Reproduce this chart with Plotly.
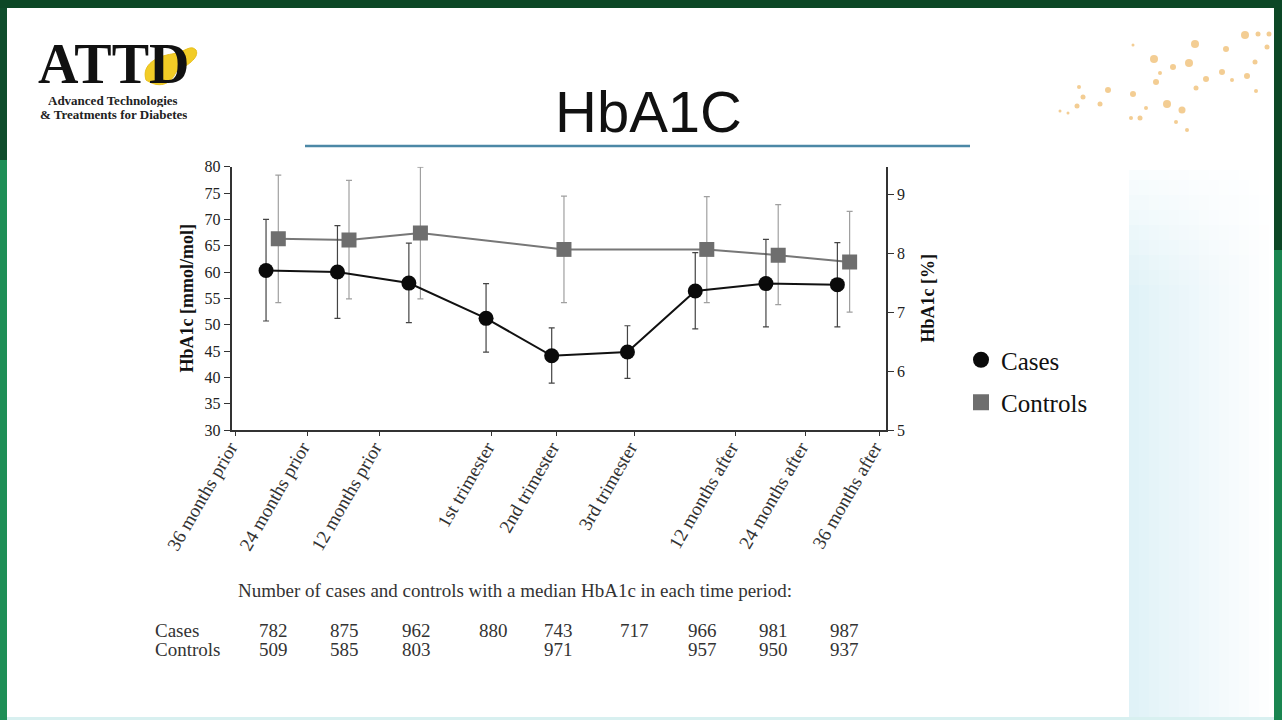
import plotly.graph_objects as go

W, H = 1282, 720

# x positions (in period units) of the tick marks and of the plotted points
tick_labels = ["36 months prior", "24 months prior", "12 months prior", "1st trimester",
               "2nd trimester", "3rd trimester", "12 months after", "24 months after",
               "36 months after"]
tick_pos = [0.0, 1.0, 2.0, 3.56, 4.46, 5.54, 6.94, 7.91, 8.93]

cases_x = [0.43, 1.42, 2.41, 3.48, 4.39, 5.44, 6.38, 7.36, 8.35]
cases_y = [60.3, 60.0, 57.9, 51.2, 44.1, 44.8, 56.4, 57.8, 57.6]
cases_hi = [70.0, 68.8, 65.5, 57.8, 49.4, 49.8, 63.7, 66.2, 65.6]
cases_lo = [50.7, 51.2, 50.4, 44.8, 38.9, 39.8, 49.2, 49.6, 49.6]

controls_x = [0.60, 1.58, 2.57, 4.56, 6.54, 7.53, 8.52]
controls_y = [66.3, 66.1, 67.4, 64.3, 64.3, 63.2, 61.9]
controls_hi = [78.4, 77.4, 79.9, 74.4, 74.3, 72.8, 71.5]
controls_lo = [54.2, 54.9, 54.9, 54.2, 54.2, 53.8, 52.4]

# counts table under the chart
cases_n = ["782", "875", "962", "880", "743", "717", "966", "981", "987"]
controls_n = ["509", "585", "803", "", "971", "", "957", "950", "937"]

# decorative network dots in the top right corner of the slide (pixel x, y, radius)
deco_dots = [(1245, 35, 4), (1195, 44, 4), (1154, 59, 4), (1189, 63, 4), (1226, 49, 3),
             (1267, 47, 2.5), (1269, 34, 2.5), (1258, 34, 2.5), (1133, 45, 1.5), (1173, 67, 3),
             (1206, 79, 3), (1222, 72, 3), (1247, 76, 3), (1255, 62, 2.5), (1156, 82, 3),
             (1167, 104, 4), (1182, 110, 3.5), (1196, 88, 2.5), (1133, 94, 3), (1108, 90, 3),
             (1083, 97, 2.5), (1079, 87, 2), (1100, 104, 2.5), (1077, 106, 2.5), (1140, 118, 2.5),
             (1131, 118, 2), (1176, 122, 2), (1187, 130, 2), (1232, 80, 2), (1256, 91, 2),
             (1068, 113, 1.5), (1060, 111, 1.5), (1160, 73, 2), (1146, 108, 2)]

SERIF = "Liberation Serif, Times New Roman, serif"
SANS = "Liberation Sans, Arial, sans-serif"


def px(x, y):
    # pixel position on the slide -> paper coords
    return x / W, 1 - y / H


def text(t, x, y, size, color="#333333", family=SERIF, xanchor="center", xref="paper", **kw):
    xx = x / W if xref == "paper" else x
    return dict(text=t, x=xx, y=1 - y / H, xref=xref, yref="paper", xanchor=xanchor,
                yanchor="middle", showarrow=False,
                font=dict(family=family, size=size, color=color), **kw)


fig = go.Figure()

fig.add_trace(go.Scatter(
    x=controls_x, y=controls_y, mode="lines+markers", showlegend=False,
    line=dict(color="#777777", width=2),
    marker=dict(symbol="square", size=15, color="#6e6e6e"),
    error_y=dict(type="data", symmetric=False,
                 array=[h - m for h, m in zip(controls_hi, controls_y)],
                 arrayminus=[m - l for l, m in zip(controls_lo, controls_y)],
                 color="#a0a0a0", thickness=1.2, width=3),
))
fig.add_trace(go.Scatter(
    x=cases_x, y=cases_y, mode="lines+markers", showlegend=False,
    line=dict(color="#111111", width=2),
    marker=dict(symbol="circle", size=15, color="#0a0a0a"),
    error_y=dict(type="data", symmetric=False,
                 array=[h - m for h, m in zip(cases_hi, cases_y)],
                 arrayminus=[m - l for l, m in zip(cases_lo, cases_y)],
                 color="#444444", thickness=1.2, width=3),
))
# legend entries (markers only)
fig.add_trace(go.Scatter(x=[None], y=[None], mode="markers", name="Cases", legendgroup="a",
                         marker=dict(symbol="circle", size=17, color="#0a0a0a")))
fig.add_trace(go.Scatter(x=[None], y=[None], mode="markers", name="Controls", legendgroup="b",
                         marker=dict(symbol="square", size=17, color="#6e6e6e")))
# invisible trace to activate the right axis
fig.add_trace(go.Scatter(x=[None], y=[None], yaxis="y2", showlegend=False))

x0, _ = px(231.7, 0)
x1, _ = px(885.7, 0)
_, yb = px(0, 430)
_, yt = px(0, 166.7)

axis_common = dict(showline=True, linecolor="#333333", linewidth=2, ticks="outside",
                   tickcolor="#333333", showgrid=False, zeroline=False, automargin=False)

fig.update_layout(
    width=W, height=H, margin=dict(l=0, r=0, t=0, b=0, autoexpand=False),
    paper_bgcolor="white", plot_bgcolor="rgba(0,0,0,0)",
    font=dict(family=SERIF, color="#222222"),
    xaxis=dict(domain=[x0, x1], range=[-0.046, 9.02], tickvals=tick_pos, ticktext=tick_labels,
               tickangle=-60, ticklen=4, tickfont=dict(size=19, color="#333333"),
               ticklabelstandoff=-7, ticklabelshift=-5, **axis_common),
    yaxis=dict(domain=[yb, yt], range=[30, 80], dtick=5, ticklen=6,
               tickfont=dict(size=16, color="#222222"),
               title=dict(text="<b>HbA1c [mmol/mol]</b>", font=dict(size=18, color="#111111"),
                          standoff=6), **axis_common),
    yaxis2=dict(overlaying="y", side="right", anchor="x", range=[5, 9.47],
                tickvals=[5, 6, 7, 8, 9], ticklen=6, tickfont=dict(size=16, color="#222222"),
                title=dict(text="<b>HbA1c [%]</b>", font=dict(size=18, color="#111111"),
                           standoff=18), **axis_common),
    legend=dict(x=961 / W, y=1 - 337 / H, xanchor="left", yanchor="top",
                font=dict(size=25, color="#111111", family=SERIF),
                tracegroupgap=7, bgcolor="rgba(0,0,0,0)"),
)

shapes = []
# soft blue glow on the right side of the slide (stacked translucent strips)
for i in range(14):
    xa = 1129 + i * 10
    shapes.append(dict(type="rect", xref="paper", yref="paper", x0=xa / W, x1=(xa + 10) / W,
                       y0=3 / H, y1=1 - 170 / H, fillcolor="#d3ecf4",
                       opacity=max(0.0, 0.7 - i * 0.05), line_width=0, layer="below"))
for i in range(8):
    shapes.append(dict(type="rect", xref="paper", yref="paper", x0=1129 / W, x1=1274 / W,
                       y0=1 - (180 + i * 15) / H, y1=1 - (165 + i * 15) / H,
                       fillcolor="white", opacity=0.8 - i * 0.1, line_width=0, layer="below"))
# network decoration
for dx, dy, r in deco_dots:
    shapes.append(dict(type="circle", xref="paper", yref="paper",
                       x0=(dx - r) / W, x1=(dx + r) / W, y0=1 - (dy + r) / H, y1=1 - (dy - r) / H,
                       fillcolor="#eeb865", opacity=0.7, line_width=0, layer="below"))
# slide frame
shapes.append(dict(type="rect", xref="paper", yref="paper", x0=0, x1=1, y0=0, y1=3 / H,
                   fillcolor="#d8f0f0", line_width=0))
shapes.append(dict(type="rect", xref="paper", yref="paper", x0=0, x1=7 / W, y0=0, y1=1,
                   fillcolor="#1e8f57", line_width=0))
shapes.append(dict(type="rect", xref="paper", yref="paper", x0=0, x1=7 / W, y0=1 - 160 / H, y1=1,
                   fillcolor="#0f4d2c", line_width=0))
shapes.append(dict(type="rect", xref="paper", yref="paper", x0=1274 / W, x1=1, y0=0, y1=1,
                   fillcolor="#1a8550", line_width=0))
shapes.append(dict(type="rect", xref="paper", yref="paper", x0=1274 / W, x1=1, y0=1 - 250 / H, y1=1,
                   fillcolor="#0c4726", line_width=0))
shapes.append(dict(type="rect", xref="paper", yref="paper", x0=0, x1=1, y0=1 - 8 / H, y1=1,
                   fillcolor="#0c4726", line_width=0))
# title underline
ux0, uy = px(305, 146)
ux1, _ = px(970, 146)
shapes.append(dict(type="line", xref="paper", yref="paper", x0=ux0, x1=ux1, y0=uy, y1=uy,
                   line=dict(color="#4c88a6", width=2.5)))
# yellow logo blob sitting in the "D"
pts = [(146, 80), (141, 64), (158, 56), (172, 54), (186, 52), (190, 44), (196, 50),
       (200, 58), (186, 66), (176, 72), (170, 86), (158, 88), (146, 80)]
p = [px(a, b) for a, b in pts]
path = f"M {p[0][0]},{p[0][1]}"
for k in range(1, len(p) - 1, 3):
    path += (f" C {p[k][0]},{p[k][1]} {p[k + 1][0]},{p[k + 1][1]}"
             f" {p[k + 2][0]},{p[k + 2][1]}")
path += " Z"
shapes.append(dict(type="path", xref="paper", yref="paper", path=path,
                   fillcolor="#f2cc26", line=dict(color="#e8c020", width=1)))
fig.update_layout(shapes=shapes)

ann = [
    text("HbA1C", 648, 111, 58, "#111111", SANS),
    text("<b>ATTD</b>", 113, 64, 56, "#111111", height=42, valign="middle", borderpad=0),
    text("<b>Advanced Technologies</b>", 113, 101, 13, "#222222", height=13, borderpad=0),
    text("<b>&amp; Treatments for Diabetes</b>", 113, 115, 13, "#222222", height=13,
         borderpad=0),
    text("Number of cases and controls with a median HbA1c in each time period:", 515, 590, 19),
    text("Cases", 153, 630, 19, xanchor="left"),
    text("Controls", 153, 649, 19, xanchor="left"),
]
for xv, a, b in zip(cases_x, cases_n, controls_n):
    ann.append(text(a, xv + 0.1, 630, 19, xref="x"))
    if b:
        ann.append(text(b, xv + 0.1, 649, 19, xref="x"))
fig.update_layout(annotations=ann)

fig.write_html("out.html", config={"displayModeBar": False},
               post_script="document.body.style.margin='0';"
                           "document.body.style.overflow='hidden';")
